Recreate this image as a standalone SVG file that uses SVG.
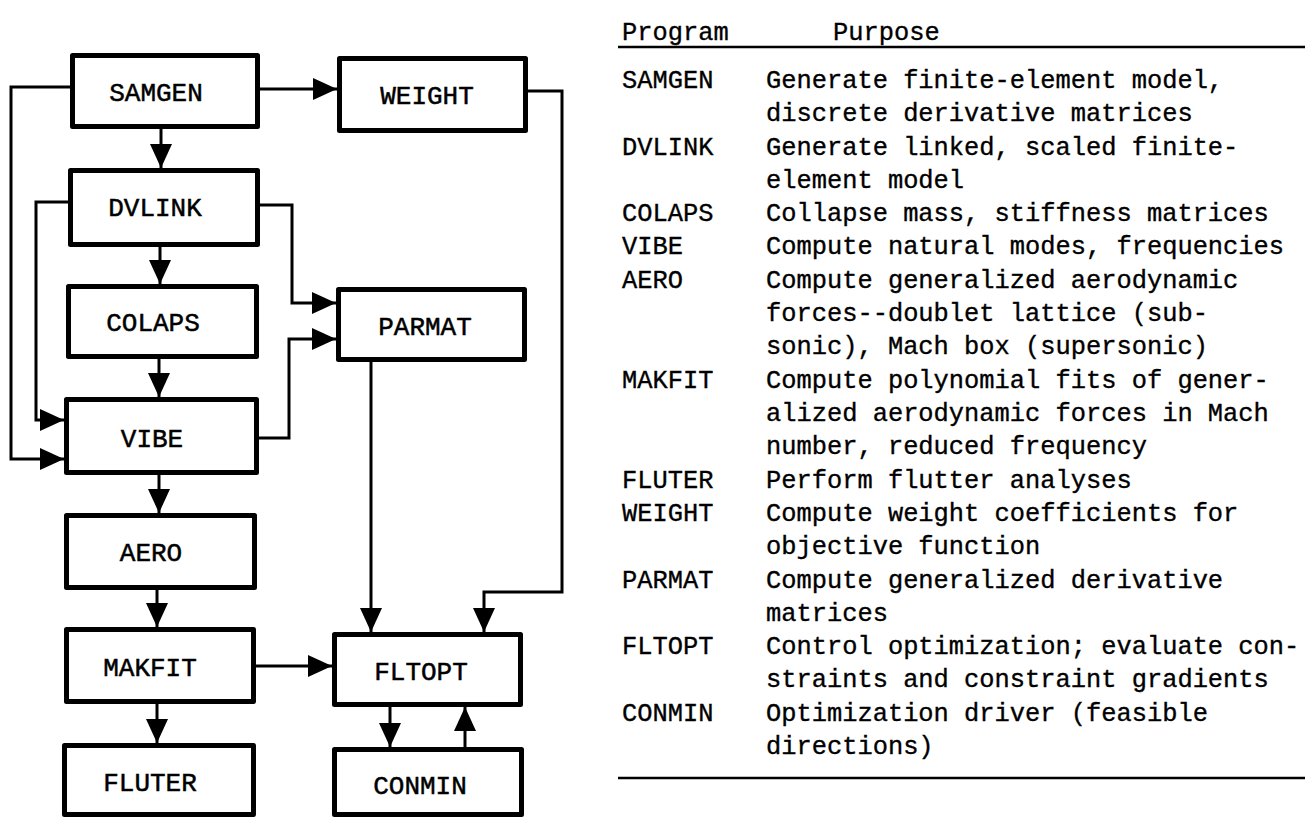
<svg xmlns="http://www.w3.org/2000/svg" width="1305" height="819" viewBox="0 0 1305 819">
<defs>
<style>
.box{fill:#fff;stroke:#000;stroke-width:5;stroke-linejoin:round}
.lbl{font-family:"Liberation Mono","Courier New",monospace;font-size:26px;fill:#000;stroke:#000;stroke-width:0.5;text-anchor:middle}
.con{fill:none;stroke:#000;stroke-width:3;marker-end:url(#ah)}
.tx{font-family:"Liberation Mono","Courier New",monospace;font-size:25.4px;fill:#000;stroke:#000;stroke-width:0.35}
.rule{stroke:#000;stroke-width:2.5}
</style>
<marker id="ah" markerUnits="userSpaceOnUse" markerWidth="26" markerHeight="24" refX="24" refY="11" orient="auto">
<path d="M0,0 L24,11 L0,22 z" fill="#000"/>
</marker>
</defs>
<rect width="1305" height="819" fill="#fff"/>
<g id="connectors">
<path class="con" d="M260,89 H337"/>
<path class="con" d="M161,129 V168"/>
<path class="con" d="M70,87 H11 V459 H64"/>
<path class="con" d="M160,247 V284"/>
<path class="con" d="M68,202 H36 V420 H64"/>
<path class="con" d="M260,205 H292 V303 H336"/>
<path class="con" d="M159,359 V397"/>
<path class="con" d="M259,438 H289 V339 H336"/>
<path class="con" d="M159,475 V513"/>
<path class="con" d="M157,590 V627"/>
<path class="con" d="M157,704 V743"/>
<path class="con" d="M256,666 H332"/>
<path class="con" d="M371,362 V632"/>
<path class="con" d="M528,91 H562 V592 H484 V632"/>
<path class="con" d="M390,707 V747"/>
<path class="con" d="M465,747 V707"/>
</g>
<g id="SAMGEN"><rect class="box" x="72.5" y="55.5" width="185" height="71"/><text class="lbl" x="156" y="101">SAMGEN</text></g>
<g id="WEIGHT"><rect class="box" x="339.5" y="58.5" width="186" height="72"/><text class="lbl" x="427" y="104">WEIGHT</text></g>
<g id="DVLINK"><rect class="box" x="70.5" y="170.5" width="187" height="74"/><text class="lbl" x="155" y="216">DVLINK</text></g>
<g id="COLAPS"><rect class="box" x="68.5" y="286.5" width="188" height="70"/><text class="lbl" x="153" y="331">COLAPS</text></g>
<g id="PARMAT"><rect class="box" x="338.5" y="289.5" width="186" height="70"/><text class="lbl" x="425" y="335">PARMAT</text></g>
<g id="VIBE"><rect class="box" x="66.5" y="399.5" width="190" height="73"/><text class="lbl" x="152" y="447">VIBE</text></g>
<g id="AERO"><rect class="box" x="66.5" y="515.5" width="188" height="72"/><text class="lbl" x="151" y="561">AERO</text></g>
<g id="MAKFIT"><rect class="box" x="66.5" y="629.5" width="187" height="72"/><text class="lbl" x="150" y="676">MAKFIT</text></g>
<g id="FLTOPT"><rect class="box" x="334.5" y="634.5" width="186" height="70"/><text class="lbl" x="421" y="680">FLTOPT</text></g>
<g id="FLUTER"><rect class="box" x="64.5" y="745.5" width="189" height="69"/><text class="lbl" x="150" y="791">FLUTER</text></g>
<g id="CONMIN"><rect class="box" x="334.5" y="749.5" width="187" height="65"/><text class="lbl" x="420" y="794">CONMIN</text></g>
<g id="table">
<text class="tx" x="622" y="40">Program</text>
<text class="tx" x="833" y="40">Purpose</text>
<line class="rule" x1="618" y1="47" x2="1305" y2="47"/>
<text class="tx" x="622" y="88">SAMGEN</text>
<text class="tx" x="766" y="88">Generate finite-element model,</text>
<text class="tx" x="766" y="121">discrete derivative matrices</text>
<text class="tx" x="622" y="155">DVLINK</text>
<text class="tx" x="766" y="155">Generate linked, scaled finite-</text>
<text class="tx" x="766" y="188">element model</text>
<text class="tx" x="622" y="221">COLAPS</text>
<text class="tx" x="766" y="221">Collapse mass, stiffness matrices</text>
<text class="tx" x="622" y="254">VIBE</text>
<text class="tx" x="766" y="254">Compute natural modes, frequencies</text>
<text class="tx" x="622" y="288">AERO</text>
<text class="tx" x="766" y="288">Compute generalized aerodynamic</text>
<text class="tx" x="766" y="321">forces--doublet lattice (sub-</text>
<text class="tx" x="766" y="354">sonic), Mach box (supersonic)</text>
<text class="tx" x="622" y="388">MAKFIT</text>
<text class="tx" x="766" y="388">Compute polynomial fits of gener-</text>
<text class="tx" x="766" y="421">alized aerodynamic forces in Mach</text>
<text class="tx" x="766" y="454">number, reduced frequency</text>
<text class="tx" x="622" y="488">FLUTER</text>
<text class="tx" x="766" y="488">Perform flutter analyses</text>
<text class="tx" x="622" y="521">WEIGHT</text>
<text class="tx" x="766" y="521">Compute weight coefficients for</text>
<text class="tx" x="766" y="554">objective function</text>
<text class="tx" x="622" y="588">PARMAT</text>
<text class="tx" x="766" y="588">Compute generalized derivative</text>
<text class="tx" x="766" y="621">matrices</text>
<text class="tx" x="622" y="654">FLTOPT</text>
<text class="tx" x="766" y="654">Control optimization; evaluate con-</text>
<text class="tx" x="766" y="687">straints and constraint gradients</text>
<text class="tx" x="622" y="721">CONMIN</text>
<text class="tx" x="766" y="721">Optimization driver (feasible</text>
<text class="tx" x="766" y="754">directions)</text>
<line class="rule" x1="618" y1="778" x2="1305" y2="778"/>
</g>
</svg>
